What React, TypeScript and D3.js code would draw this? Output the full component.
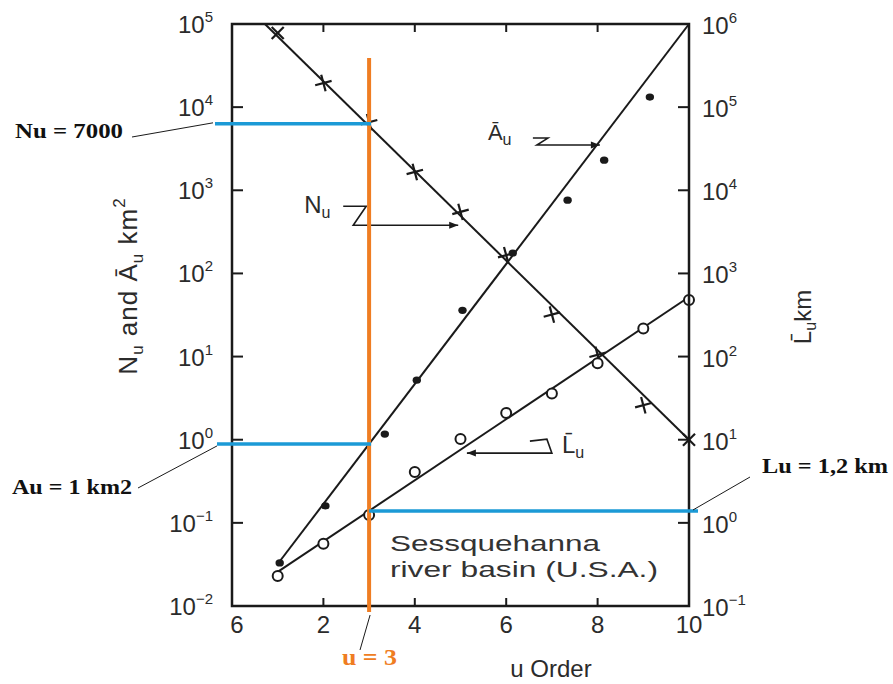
import * as d3 from 'd3'

// stream order u
const orders = [1, 2, 3, 4, 5, 6, 7, 8, 9, 10]
// number of streams N_u (crosses, left axis)
const nuValues = [78000, 19500, 6600, 1660, 550, 166, 32, 10.5, 2.6, 1]
// mean basin area A_u km2 (dots, left axis), orders
const auOrders = [1, 2, 3.3, 4, 5, 6.1, 7.3, 8.1, 9.1]
const auValues = [0.033, 0.16, 1.17, 5.2, 36, 176, 760, 2300, 13200]
// mean stream length L_u km (circles, right axis)
const luValues = [0.23, 0.56, 1.24, 4.1, 10.2, 21, 36, 83, 218, 480]

// fitted lines [order, value]
const nuFit: [number, number][] = [[0.72, 1e5], [10, 1]]
const auFit: [number, number][] = [[1, 0.032], [10, 1e5]]
const luFit: [number, number][] = [[1, 0.257], [10, 520]]

const leftExps = [-2, -1, 0, 1, 2, 3, 4, 5]
const rightExps = [-1, 0, 1, 2, 3, 4, 5, 6]
const xTicks = [0, 2, 4, 6, 8, 10]
const xTickLabels = ['6', '2', '4', '6', '8', '10']
const innerXTicks = [2, 4, 6, 8]

// readings at u = 3
const markOrder = 3
const nuRead = 6300
const auRead = 0.89
const luRead = 1.39

const W = 893
const H = 684
const sans = 'Liberation Sans, Arial, Helvetica, sans-serif'
const serif = 'Liberation Serif, Times New Roman, serif'
const ink = '#1a1a1a'
const blue = '#1b9ad6'
const orange = '#ef7d22'

const sup = (e: number) => (e < 0 ? '\u2212' + Math.abs(e) : String(e))

function Arrow({ pts, color = ink }: { pts: [number, number][]; color?: string }) {
  const n = pts.length
  const [x1, y1] = pts[n - 2]
  const [x2, y2] = pts[n - 1]
  const a = Math.atan2(y2 - y1, x2 - x1)
  const L = 9, w = 3.5
  const head = [
    [x2, y2],
    [x2 - L * Math.cos(a) + w * Math.sin(a), y2 - L * Math.sin(a) - w * Math.cos(a)],
    [x2 - L * Math.cos(a) - w * Math.sin(a), y2 - L * Math.sin(a) + w * Math.cos(a)]
  ]
  return (
    <g>
      <path d={d3.line()(pts) || ''} fill="none" stroke={color} strokeWidth={1.6} />
      <path d={'M' + head.map(p => p.join(',')).join('L') + 'Z'} fill={color} />
    </g>
  )
}

export default function App() {
  const x = d3.scaleLinear().domain([0, 10]).range([232, 689])
  const yL = d3.scaleLog().domain([1e-2, 1e5]).range([606, 24])
  const yR = d3.scaleLog().domain([1e-1, 1e6]).range([606, 24])

  const lineL = d3.line<[number, number]>().x(d => x(d[0])).y(d => yL(d[1]))
  const lineR = d3.line<[number, number]>().x(d => x(d[0])).y(d => yR(d[1]))

  const [x0, x1] = x.range()
  const [yB, yT] = yL.range()

  // annotation anchors (arrow tips on the fitted lines)
  const nTip: [number, number] = [x(4.95), yL(380)]
  const aTip: [number, number] = [x(8.05), yL(3500)]
  const lTip: [number, number] = [x(5.14), yR(6.9)]

  const xm = x(markOrder)

  return (
    <svg width={W} height={H} style={{ position: 'absolute', left: 0, top: 0, background: '#fff' }}
      fontFamily={sans}>
      <rect width={W} height={H} fill="#fff" />

      {/* fitted lines */}
      <path d={lineL(nuFit) || ''} fill="none" stroke={ink} strokeWidth={2} />
      <path d={lineL(auFit) || ''} fill="none" stroke={ink} strokeWidth={2} />
      <path d={lineR(luFit) || ''} fill="none" stroke={ink} strokeWidth={2} />

      {/* N_u crosses */}
      {orders.map((u, i) => {
        const end = i === 0 || i === orders.length - 1
        const s = 8.5
        return (
          <g key={'n' + u} transform={`translate(${x(u)},${yL(nuValues[i])}) rotate(${end ? 45 : -15})`}>
            <line x1={-s} x2={s} y1={0} y2={0} stroke={ink} strokeWidth={2.2} />
            <line x1={0} x2={0} y1={-s} y2={s} stroke={ink} strokeWidth={2.2} />
          </g>
        )
      })}

      {/* A_u dots */}
      {auOrders.map((u, i) => (
        <ellipse key={'a' + u} cx={x(u) + 2} cy={yL(auValues[i])} rx={4.2} ry={3.6} fill={ink} />
      ))}

      {/* L_u circles */}
      {orders.map((u, i) => (
        <circle key={'l' + u} cx={x(u)} cy={yR(luValues[i])} r={5} fill="#fff" stroke={ink} strokeWidth={2} />
      ))}

      {/* frame */}
      <rect x={x0} y={yT} width={x1 - x0} height={yB - yT} fill="none" stroke={ink} strokeWidth={2.5} />
      {leftExps.map(e => (
        <line key={'lt' + e} x1={x0} x2={x0 + 11} y1={yL(10 ** e)} y2={yL(10 ** e)} stroke={ink} strokeWidth={2} />
      ))}
      {rightExps.map(e => (
        <line key={'rt' + e} x1={x1} x2={x1 - 11} y1={yR(10 ** e)} y2={yR(10 ** e)} stroke={ink} strokeWidth={2} />
      ))}
      {innerXTicks.map(t => (
        <g key={'xt' + t}>
          <line x1={x(t)} x2={x(t)} y1={yB} y2={yB - 8} stroke={ink} strokeWidth={2} />
          <line x1={x(t)} x2={x(t)} y1={yT} y2={yT + 8} stroke={ink} strokeWidth={2} />
        </g>
      ))}

      {/* tick labels */}
      {leftExps.map(e => (
        <text key={'ll' + e} x={213} y={yL(10 ** e) + 9} textAnchor="end" fontSize={24} fill="#2b2b2b">
          10<tspan dy={-11} fontSize={15}>{sup(e)}</tspan>
        </text>
      ))}
      {rightExps.map(e => (
        <text key={'rl' + e} x={702} y={yR(10 ** e) + 10} fontSize={24} fill="#2b2b2b">
          10<tspan dy={-11} fontSize={15}>{sup(e)}</tspan>
        </text>
      ))}
      {xTicks.map((t, i) => (
        <text key={'xl' + t} x={x(t) + (i === 0 ? 5 : 0)} y={633} textAnchor="middle" fontSize={24} fill="#2b2b2b">
          {xTickLabels[i]}
        </text>
      ))}

      {/* axis titles */}
      <text x={551} y={677} textAnchor="middle" fontSize={24} fill="#2b2b2b">u Order</text>
      <text transform="translate(137,286) rotate(-90)" textAnchor="middle" fontSize={26} fill="#2b2b2b"
        letterSpacing={1}>
        N<tspan dy={6} fontSize={17}>u</tspan>
        <tspan dy={-6}> and Ā</tspan>
        <tspan dy={6} fontSize={17}>u</tspan>
        <tspan dy={-6}> km</tspan>
        <tspan dy={-12} fontSize={17}>2</tspan>
      </text>
      <text transform="translate(811,317) rotate(-90)" textAnchor="middle" fontSize={24} fill="#2b2b2b">
        L&#772;<tspan dy={5} fontSize={16}>u</tspan>
        <tspan dy={-5}>km</tspan>
      </text>

      {/* series annotations */}
      <Arrow pts={[
        [nTip[0] - 115, nTip[1] - 19], [nTip[0] - 92, nTip[1] - 19], [nTip[0] - 105, nTip[1]], nTip
      ]} />
      <text x={nTip[0] - 154} y={nTip[1] - 12} fontSize={24} fill="#2b2b2b">
        N<tspan dy={5} fontSize={16}>u</tspan>
      </text>
      <Arrow pts={[
        [aTip[0] - 67, aTip[1] - 7], [aTip[0] - 52, aTip[1] - 7], [aTip[0] - 63, aTip[1]], aTip
      ]} />
      <text x={aTip[0] - 112} y={aTip[1] - 5} fontSize={22} fill="#2b2b2b">
        Ā<tspan dy={5} fontSize={16}>u</tspan>
      </text>
      <Arrow pts={[
        [lTip[0] + 63, lTip[1] - 12], [lTip[0] + 80, lTip[1] - 14], [lTip[0] + 85, lTip[1]], lTip
      ]} />
      <text x={lTip[0] + 95} y={lTip[1]} fontSize={24} fill="#2b2b2b">
        L&#772;<tspan dy={5} fontSize={16}>u</tspan>
      </text>

      <text x={390} y={551} fontSize={22} fill="#333" textLength={210} lengthAdjust="spacingAndGlyphs">Sessquehanna</text>
      <text x={390} y={577} fontSize={22} fill="#333" textLength={268} lengthAdjust="spacingAndGlyphs">river basin (U.S.A.)</text>

      {/* readings at u = 3 */}
      <line x1={xm} x2={xm} y1={yL(39000)} y2={yB + 6} stroke={orange} strokeWidth={4} />
      <line x1={x0 - 17} x2={xm + 2} y1={yL(nuRead)} y2={yL(nuRead)} stroke={blue} strokeWidth={3.5} />
      <line x1={x0 - 15} x2={xm + 2} y1={yL(auRead)} y2={yL(auRead)} stroke={blue} strokeWidth={3.5} />
      <line x1={xm} x2={x1 + 9} y1={yR(luRead)} y2={yR(luRead)} stroke={blue} strokeWidth={3.5} />

      {/* leaders and callout labels */}
      <line x1={132} y1={137} x2={x0 - 19} y2={yL(nuRead) - 1} stroke={ink} strokeWidth={1} />
      <text x={15} y={138} fontFamily={serif} fontWeight="bold" fontSize={22} fill="#111"
        textLength={108} lengthAdjust="spacingAndGlyphs">Nu = 7000</text>
      <line x1={138} y1={488} x2={x0 - 15} y2={yL(auRead) + 2} stroke={ink} strokeWidth={1} />
      <text x={12} y={494} fontFamily={serif} fontWeight="bold" fontSize={22} fill="#111"
        textLength={120} lengthAdjust="spacingAndGlyphs">Au = 1 km2</text>
      <line x1={750} y1={477} x2={x1 + 4} y2={yR(luRead) - 1} stroke={ink} strokeWidth={1} />
      <text x={762} y={473} fontFamily={serif} fontWeight="bold" fontSize={22} fill="#111"
        textLength={126} lengthAdjust="spacingAndGlyphs">Lu = 1,2 km</text>
      <line x1={xm + 1} y1={yB + 9} x2={360} y2={650} stroke={ink} strokeWidth={1} />
      <text x={342} y={665} fontFamily={serif} fontWeight="bold" fontSize={24} fill={orange}
        textLength={55} lengthAdjust="spacingAndGlyphs">u = 3</text>
    </svg>
  )
}
